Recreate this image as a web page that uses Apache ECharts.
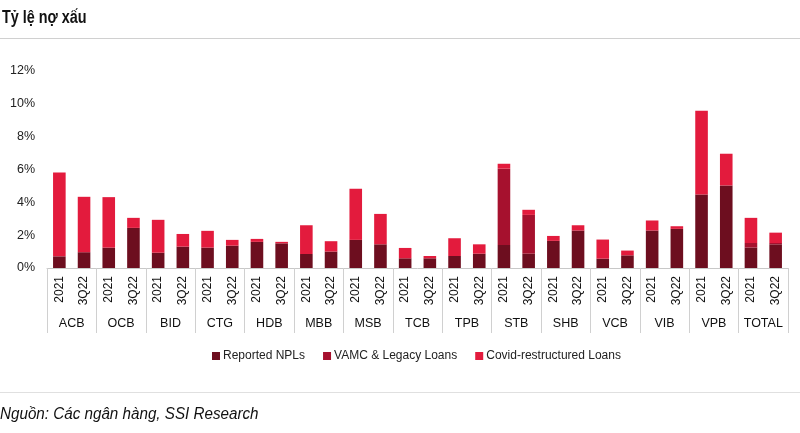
<!DOCTYPE html>
<html>
<head>
<meta charset="utf-8">
<script src="https://cdn.jsdelivr.net/npm/echarts@6/dist/echarts.min.js"></script>
<style>html,body{margin:0;padding:0;background:#fff}#c{width:800px;height:433px}</style>
</head>
<body>
<div id="c"></div>
<script>
var banks = ["ACB","OCB","BID","CTG","HDB","MBB","MSB","TCB","TPB","STB","SHB","VCB","VIB","VPB","TOTAL"];
var periods = ["2021","3Q22"];
var reportedNPLs = [0.71,0.96, 1.24,2.44, 0.93,1.30, 1.24,1.36, 1.59,1.50, 0.85,1.00, 1.71,1.44, 0.59,0.59, 0.73,0.87, 1.40,0.87, 1.65,2.28, 0.57,0.77, 2.28,2.38, 4.47,5.02, 1.24,1.44];
var vamcLegacy   = [0,0, 0,0, 0,0, 0,0, 0,0, 0,0, 0,0, 0,0, 0,0, 4.64,2.36, 0,0, 0,0, 0,0, 0,0, 0.28,0.08];
var covidLoans   = [5.10,3.37, 3.07,0.61, 2.00,0.77, 1.02,0.35, 0.18,0.09, 1.75,0.63, 3.11,1.85, 0.63,0.14, 1.08,0.57, 0.30,0.31, 0.30,0.32, 1.16,0.29, 0.61,0.16, 5.10,1.93, 1.53,0.63];
var yTicks = {min:0, max:12, interval:2};

var cats = [];
banks.forEach(function(b){ periods.forEach(function(p){ cats.push(p); }); });

var FONT = '"Liberation Sans",Arial,sans-serif';
var chart = echarts.init(document.getElementById('c'), null, {renderer:'canvas'});
function bar(name, data, color){
  return {name:name, type:'bar', stack:'s', data:data, barWidth:'51%', itemStyle:{color:color}, xAxisIndex:0};
}
chart.setOption({
  animation:false,
  textStyle:{fontFamily:FONT},
  graphic:[
    {type:'line', shape:{x1:0,y1:38.5,x2:800,y2:38.5}, style:{stroke:'#d0d0d0', lineWidth:1}},
    {type:'line', shape:{x1:0,y1:392.5,x2:800,y2:392.5}, style:{stroke:'#e0e0e0', lineWidth:1}},
    {type:'text', x:2, y:18, scaleX:0.8, style:{text:'Tỷ lệ nợ xấu', font:'bold 18px ' + FONT, fill:'#111', textVerticalAlign:'middle'}},
    {type:'text', x:0, y:415, scaleX:0.95, style:{text:'Nguồn: Các ngân hàng, SSI Research', font:'italic 16px ' + FONT, fill:'#111', textVerticalAlign:'middle'}}
  ],
  legend:{
    left:207, top:345, icon:'rect', itemWidth:8, itemHeight:8, itemGap:18,
    textStyle:{fontFamily:FONT, fontSize:12, color:'#222', padding:[0,0,0,-2]},
    data:['Reported NPLs','VAMC & Legacy Loans','Covid-restructured Loans']
  },
  grid:{left:47, right:12, top:70.7, bottom:165},
  xAxis:[
    {type:'category', data:cats, position:'bottom',
     axisLine:{show:true, lineStyle:{color:'#c8c8c8'}},
     axisTick:{show:false},
     axisLabel:{rotate:90, interval:0, margin:8, fontSize:12, color:'#111', fontFamily:FONT}},
    {type:'category', data:banks, position:'bottom',
     axisLine:{show:false},
     axisTick:{show:true, length:65, interval:0, lineStyle:{color:'#d0d0d0'}},
     axisLabel:{interval:0, margin:49, fontSize:12.5, color:'#111', fontFamily:FONT}}
  ],
  yAxis:{type:'value', min:yTicks.min, max:yTicks.max, interval:yTicks.interval,
    axisLine:{show:false}, axisTick:{show:false}, splitLine:{show:false},
    axisLabel:{formatter:'{value}%', margin:12, fontSize:12.5, color:'#222', fontFamily:FONT}},
  series:[
    bar('Reported NPLs', reportedNPLs, '#6d0e1f'),
    bar('VAMC & Legacy Loans', vamcLegacy, '#a6112e'),
    bar('Covid-restructured Loans', covidLoans, '#e31b3d')
  ]
});
</script>
</body>
</html>
